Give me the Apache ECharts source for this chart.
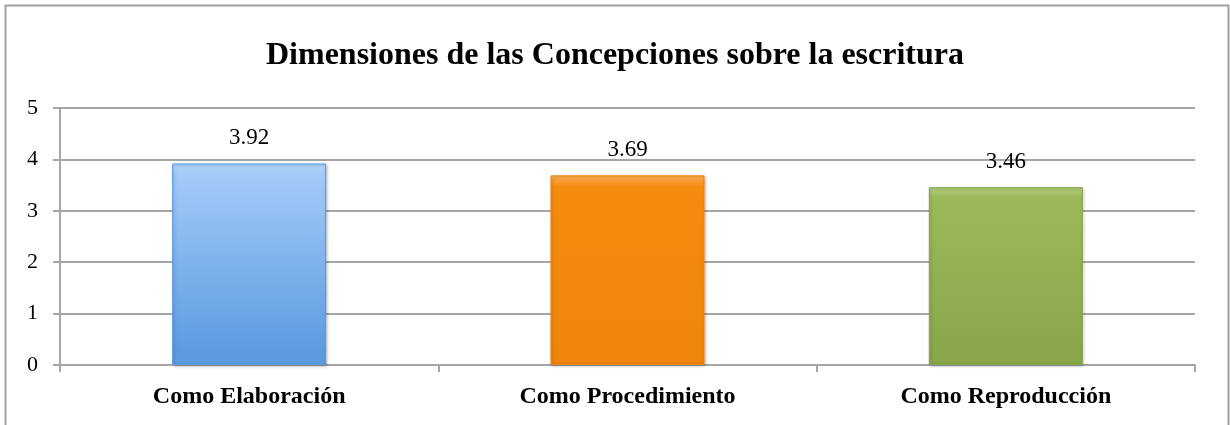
<!DOCTYPE html>
<html>
<head>
<meta charset="utf-8">
<script src="https://cdn.jsdelivr.net/npm/echarts@6/dist/echarts.min.js"></script>
<style>
html,body{margin:0;padding:0;background:#fff;}
#c{width:1230px;height:425px;}
</style>
</head>
<body>
<div id="c"></div>
<script>
const titleText = 'Dimensiones de las Concepciones sobre la escritura';
const categories = ['Como Elaboración', 'Como Procedimiento', 'Como Reproducción'];
const values = [3.92, 3.69, 3.46];
const yTicks = [0, 1, 2, 3, 4, 5];
const barTop = ['#b3d4fb', '#fbb158', '#b7cf80'];
const barMid = ['#a3caf8', '#f68b10', '#9cb95a'];
const barBottom = ['#5b9be0', '#f0850c', '#8aa64b'];

function grad(i) {
  return new echarts.graphic.LinearGradient(0, 0, 0, 1, [
    {offset: 0, color: barTop[i]},
    {offset: 0.06, color: barMid[i]},
    {offset: 0.94, color: barBottom[i]},
    {offset: 1, color: barBottom[i]}
  ]);
}

const chart = echarts.init(document.getElementById('c'));
chart.setOption({
  animation: false,
  backgroundColor: '#fff',
  title: {
    text: titleText,
    left: 'center',
    top: 35,
    textStyle: {fontFamily: 'Liberation Serif', fontWeight: 'bold', fontSize: 32, color: '#000'}
  },
  graphic: [{
    type: 'rect',
    shape: {x: 5.5, y: 5.5, width: 1223, height: 425},
    style: {fill: 'none', stroke: '#a0a0a0', lineWidth: 2}
  }],
  grid: {left: 60, right: 35, top: 108, bottom: 60},
  xAxis: {
    type: 'category',
    data: categories,
    axisLine: {lineStyle: {color: '#a6a6a6', width: 2}},
    axisTick: {show: true, length: 7, lineStyle: {color: '#a6a6a6', width: 2}},
    axisLabel: {fontFamily: 'Liberation Serif', fontWeight: 'bold', fontSize: 24, color: '#000', margin: 20}
  },
  yAxis: {
    type: 'value',
    min: yTicks[0],
    max: yTicks[yTicks.length - 1],
    interval: 1,
    axisLine: {show: true, lineStyle: {color: '#a6a6a6', width: 2}},
    axisTick: {show: true, length: 7, lineStyle: {color: '#a6a6a6', width: 2}},
    splitLine: {lineStyle: {color: '#a6a6a6', width: 2}},
    axisLabel: {fontFamily: 'Liberation Serif', fontSize: 22, color: '#000', margin: 22}
  },
  series: [{
    type: 'bar',
    barWidth: 154,
    data: values.map((v, i) => ({
      value: v,
      itemStyle: {color: grad(i), borderColor: barBottom[i], borderWidth: 1,
        shadowColor: 'rgba(0,0,0,0.25)', shadowBlur: 3, shadowOffsetX: 1, shadowOffsetY: 1}
    })),
    label: {
      show: true,
      position: 'top',
      distance: 14,
      formatter: p => p.value.toFixed(2),
      fontFamily: 'Liberation Serif',
      fontSize: 23,
      color: '#000'
    }
  }]
});
</script>
</body>
</html>
